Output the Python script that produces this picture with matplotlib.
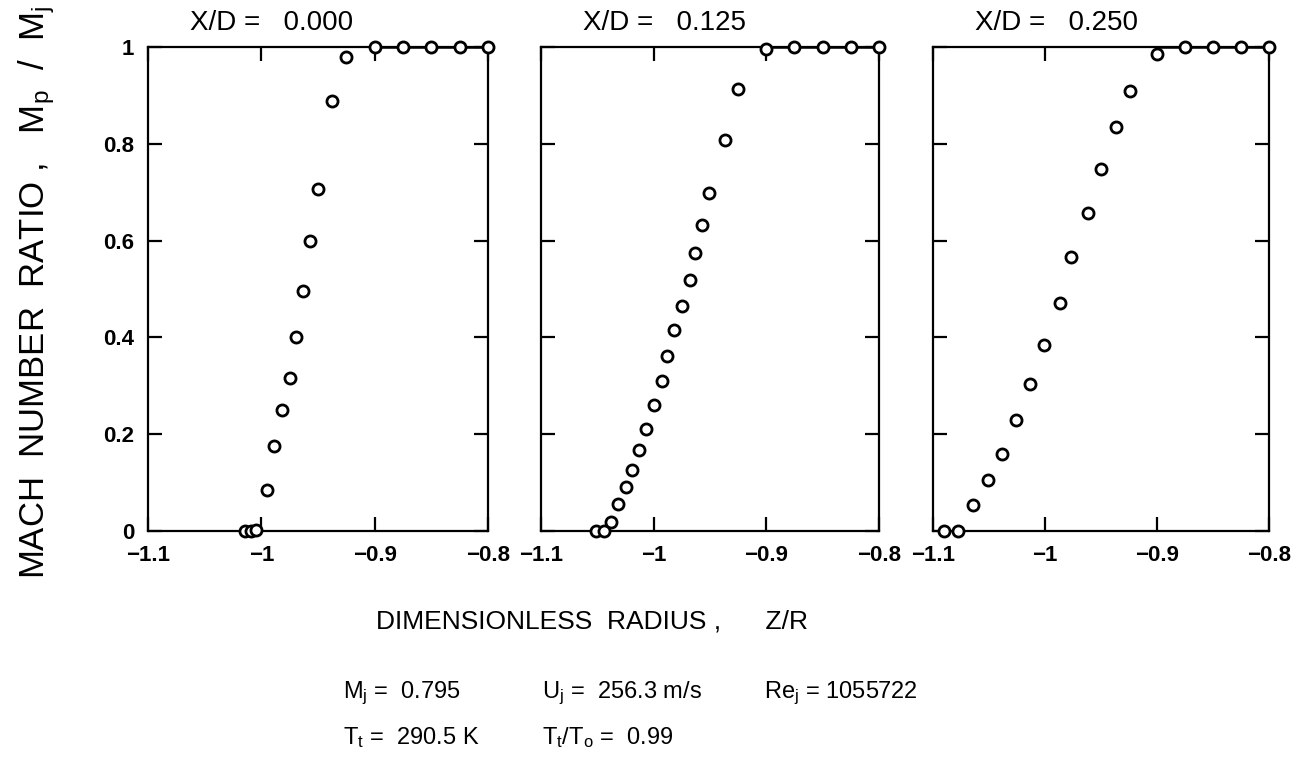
import numpy as np
import matplotlib
matplotlib.use("Agg")
import matplotlib.pyplot as plt

plt.rcParams['font.family'] = ['Liberation Sans', 'DejaVu Sans']
plt.rcParams['mathtext.fontset'] = 'custom'
plt.rcParams['mathtext.rm'] = 'Liberation Sans'
plt.rcParams['mathtext.it'] = 'Liberation Sans'

# Datos: radio adimensional Z/R y razon de Mach Mp/Mj
titulos = ["X/D =   0.000", "X/D =   0.125", "X/D =   0.250"]

z_000 = [-1.014, -1.009, -1.005, -0.995, -0.989, -0.982, -0.975, -0.969, -0.963,
         -0.957, -0.950, -0.938, -0.925, -0.900, -0.875, -0.850, -0.825, -0.800]
m_000 = [0.0, 0.0, 0.003, 0.085, 0.176, 0.250, 0.316, 0.401, 0.496,
         0.599, 0.707, 0.889, 0.980, 1.0, 1.0, 1.0, 1.0, 1.0]

z_125 = [-1.051, -1.044, -1.038, -1.032, -1.025, -1.019, -1.013, -1.007, -1.000,
         -0.993, -0.988, -0.982, -0.975, -0.968, -0.963, -0.957, -0.951, -0.937,
         -0.925, -0.900, -0.875, -0.850, -0.825, -0.800]
m_125 = [0.0, 0.0, 0.019, 0.056, 0.090, 0.126, 0.167, 0.210, 0.260,
         0.310, 0.361, 0.415, 0.464, 0.519, 0.574, 0.633, 0.699, 0.807,
         0.913, 0.995, 1.0, 1.0, 1.0, 1.0]

z_250 = [-1.090, -1.078, -1.064, -1.051, -1.038, -1.026, -1.013, -1.001, -0.987,
         -0.977, -0.962, -0.950, -0.937, -0.924, -0.900, -0.875, -0.850, -0.825, -0.800]
m_250 = [0.0, 0.0, 0.054, 0.105, 0.160, 0.230, 0.303, 0.384, 0.471,
         0.566, 0.657, 0.748, 0.835, 0.909, 0.985, 1.0, 1.0, 1.0, 1.0]

datos = [(z_000, m_000), (z_125, m_125), (z_250, m_250)]

xticks = [-1.1, -1.0, -0.9, -0.8]
xticklabels = ["\u22121.1", "\u22121", "\u22120.9", "\u22120.8"]
yticks = [0, 0.2, 0.4, 0.6, 0.8, 1.0]
yticklabels = ["0", "0.2", "0.4", "0.6", "0.8", "1"]

fig = plt.figure(figsize=(13, 7.6), dpi=100)

# posiciones de los tres paneles en pixeles (izq, der)
bordes = [(148, 488), (541, 879), (933, 1269)]
arriba, abajo = 47, 531

for i, (z, m) in enumerate(datos):
    izq, der = bordes[i]
    ax = fig.add_axes([izq / 1300, 1 - abajo / 760, (der - izq) / 1300, (abajo - arriba) / 760])
    # linea a M=1 fuera del chorro
    ax.plot([-0.9, -0.8], [1, 1], color='black', lw=1.8, clip_on=False)
    ax.plot(z, m, 'o', mfc='white', mec='black', ms=8, mew=2.0, clip_on=False, zorder=5)
    ax.set_xlim(-1.1, -0.8)
    ax.set_ylim(0, 1)
    ax.set_xticks(xticks)
    ax.set_xticklabels(xticklabels, fontsize=16, fontweight='bold')
    ax.set_yticks(yticks)
    if i == 0:
        ax.set_yticklabels(yticklabels, fontsize=16, fontweight='bold')
    else:
        ax.set_yticklabels([])
    ax.tick_params(direction='in', length=10, width=1.6, top=True, right=True, pad=10)
    for s in ax.spines.values():
        s.set_linewidth(1.6)
    ax.text(42 / (der - izq), 1.022, titulos[i], transform=ax.transAxes,
            fontsize=20, ha='left', va='bottom')

fig.text(0.028, 0.615, r'MACH  NUMBER  RATIO ,   M$_\mathregular{p}$  /  M$_\mathregular{j}$',
         rotation=90, fontsize=25, ha='center', va='center')
fig.text(0.455, 0.182, "DIMENSIONLESS  RADIUS ,      Z/R", fontsize=19, ha='center', va='center')

pie = 17
fig.text(0.264, 0.088, r'M$_\mathregular{j}$ =  0.795', fontsize=pie, ha='left', va='center')
fig.text(0.417, 0.088, r'U$_\mathregular{j}$ =  256.3 m/s', fontsize=pie, ha='left', va='center')
fig.text(0.588, 0.088, r'Re$_\mathregular{j}$ = 1055722', fontsize=pie, ha='left', va='center')
fig.text(0.264, 0.030, r'T$_\mathregular{t}$ =  290.5 K', fontsize=pie, ha='left', va='center')
fig.text(0.417, 0.030, r'T$_\mathregular{t}$/T$_\mathregular{o}$ =  0.99', fontsize=pie, ha='left', va='center')

fig.savefig("out.png", dpi=100, facecolor='white')
